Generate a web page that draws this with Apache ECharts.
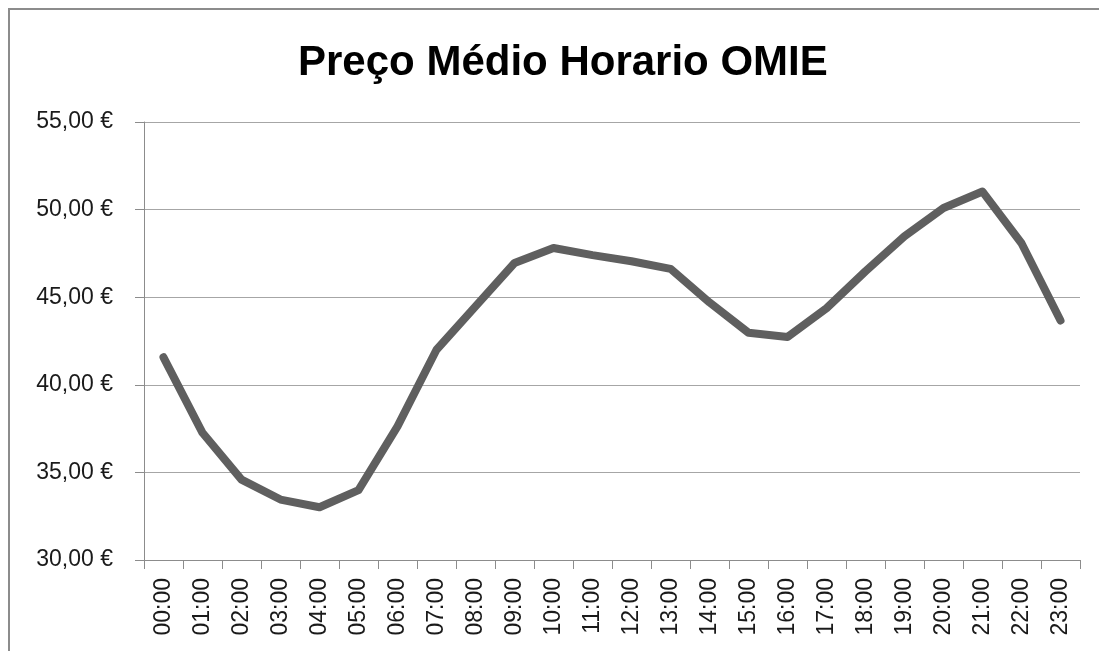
<!DOCTYPE html>
<html>
<head>
<meta charset="utf-8">
<script src="https://cdn.jsdelivr.net/npm/echarts@6/dist/echarts.min.js"></script>
<style>
    html, body { margin: 0; padding: 0; background: #fff; }
    #chart { width: 1099px; height: 651px; }
    #frame {
        position: absolute; left: 8px; top: 8px; width: 1100px; height: 660px;
        border-left: 2px solid #8c8c8c; border-top: 2px solid #8c8c8c;
        pointer-events: none;
    }
</style>
</head>
<body>
<div id="chart"></div>
<div id="frame"></div>
<script>
// hourly average price, OMIE
const hours = [
    '00:00', '01:00', '02:00', '03:00', '04:00', '05:00', '06:00', '07:00',
    '08:00', '09:00', '10:00', '11:00', '12:00', '13:00', '14:00', '15:00',
    '16:00', '17:00', '18:00', '19:00', '20:00', '21:00', '22:00', '23:00'
];
const prices = [
    41.57, 37.26, 34.59, 33.45, 33.01, 33.99, 37.63, 42.00,
    44.48, 46.95, 47.81, 47.40, 47.05, 46.62, 44.70, 42.97,
    42.73, 44.37, 46.48, 48.48, 50.09, 51.03, 48.08, 43.67
];
const yTicks = [30, 35, 40, 45, 50, 55];
const yTickLabels = ['30,00\u00a0€', '35,00\u00a0€', '40,00\u00a0€', '45,00\u00a0€', '50,00\u00a0€', '55,00\u00a0€'];

const chart = echarts.init(document.getElementById('chart'));
const option = {
    animation: false,
    backgroundColor: '#fff',
    title: {
        text: 'Preço Médio Horario OMIE',
        left: 293,
        top: 37,
        textStyle: {
            fontFamily: 'Liberation Sans',
            fontWeight: 'bold',
            fontSize: 42,
            color: '#000'
        }
    },
    grid: {
        left: 144,
        right: 19,
        top: 122,
        bottom: 91
    },
    xAxis: {
        type: 'category',
        data: hours,
        boundaryGap: true,
        axisLine: { lineStyle: { color: '#8c8c8c', width: 1 } },
        axisTick: { show: true, length: 9, lineStyle: { color: '#8c8c8c' } },
        axisLabel: {
            rotate: 90,
            margin: 18,
            interval: 0,
            fontFamily: 'Liberation Sans',
            fontSize: 23,
            color: '#1a1a1a'
        },
        splitLine: { show: false }
    },
    yAxis: {
        type: 'value',
        min: yTicks[0],
        max: yTicks[yTicks.length - 1],
        interval: 5,
        axisLine: { show: true, lineStyle: { color: '#8c8c8c', width: 1 } },
        axisTick: { show: true, length: 9, lineStyle: { color: '#8c8c8c' } },
        axisLabel: {
            margin: 31,
            fontFamily: 'Liberation Sans',
            fontSize: 23,
            color: '#1a1a1a',
            formatter: function (v) {
                return yTickLabels[yTicks.indexOf(v)];
            }
        },
        splitLine: { show: true, lineStyle: { color: '#a6a6a6', width: 1 } }
    },
    series: [{
        type: 'line',
        data: prices,
        symbol: 'none',
        smooth: false,
        lineStyle: {
            color: '#5f5f5f',
            width: 8,
            cap: 'round',
            join: 'round'
        }
    }]
};
chart.setOption(option);
</script>
</body>
</html>
